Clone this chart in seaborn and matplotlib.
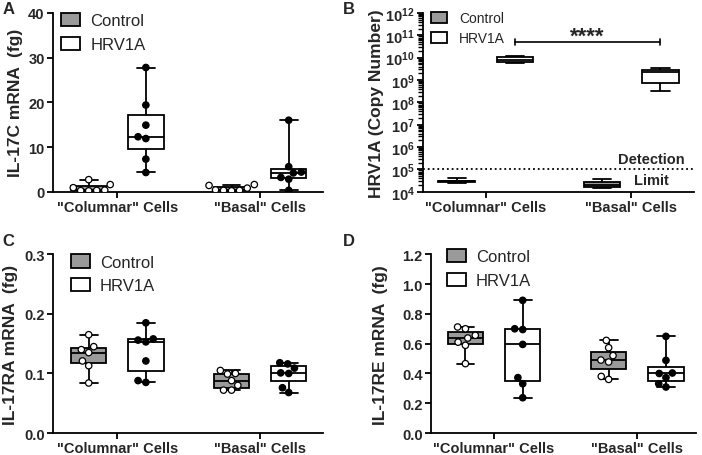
import matplotlib
matplotlib.use("Agg")
import matplotlib.pyplot as plt
import matplotlib.ticker as mticker
import seaborn as sns
import pandas as pd
from matplotlib.patches import Patch

# cell types and groups
cells = ['"Columnar" Cells', '"Basal" Cells']
groups = ["Control", "HRV1A"]

# A: IL-17C mRNA (fg)
il17c_col_ctrl = [0.2, 0.25, 0.3, 0.35, 0.9, 1.6, 2.7]
il17c_col_hrv = [4.3, 7.3, 11.9, 12.3, 14.9, 19.4, 27.8]
il17c_bas_ctrl = [0.2, 0.3, 0.3, 0.4, 0.8, 1.4, 1.6]
il17c_bas_hrv = [0.3, 2.8, 3.2, 4.2, 4.4, 5.6, 16.0]

# B: HRV1A copy number, box summary (min, q1, median, q3, max)
hrv_col_ctrl = [2.5e4, 2.7e4, 2.9e4, 3.1e4, 4.0e4]
hrv_col_hrv = [5.5e9, 6.5e9, 8.0e9, 1.1e10, 1.25e10]
hrv_bas_ctrl = [1.4e4, 1.6e4, 2.05e4, 2.8e4, 3.6e4]
hrv_bas_hrv = [3.1e8, 7.0e8, 2.3e9, 2.7e9, 3.3e9]
detection_limit = 1e5

# C: IL-17RA mRNA (fg)
il17ra_col_ctrl = [0.084, 0.113, 0.121, 0.135, 0.140, 0.145, 0.165]
il17ra_col_hrv = [0.085, 0.088, 0.121, 0.153, 0.156, 0.158, 0.185]
il17ra_bas_ctrl = [0.072, 0.072, 0.080, 0.088, 0.099, 0.100, 0.105]
il17ra_bas_hrv = [0.068, 0.076, 0.100, 0.101, 0.109, 0.116, 0.118]

# D: IL-17RE mRNA (fg)
il17re_col_ctrl = [0.466, 0.589, 0.610, 0.638, 0.656, 0.700, 0.712]
il17re_col_hrv = [0.237, 0.331, 0.372, 0.595, 0.695, 0.700, 0.891]
il17re_bas_ctrl = [0.360, 0.380, 0.477, 0.490, 0.520, 0.573, 0.622]
il17re_bas_hrv = [0.309, 0.331, 0.372, 0.400, 0.403, 0.488, 0.649]


def make_df(col_ctrl, col_hrv, bas_ctrl, bas_hrv):
    rows = []
    for cell, grp, vals in [(cells[0], groups[0], col_ctrl), (cells[0], groups[1], col_hrv),
                            (cells[1], groups[0], bas_ctrl), (cells[1], groups[1], bas_hrv)]:
        for v in vals:
            rows.append({"cell": cell, "group": grp, "value": v})
    return pd.DataFrame(rows)


sns.set_style("ticks")
plt.rcParams["font.family"] = ["Liberation Sans", "DejaVu Sans"]
plt.rcParams["font.weight"] = "bold"
plt.rcParams["mathtext.fontset"] = "custom"
plt.rcParams["mathtext.rm"] = "Liberation Sans:bold"
plt.rcParams["mathtext.bf"] = "Liberation Sans:bold"
plt.rcParams["mathtext.default"] = "bf"

box_colors = {"Control": "#9a9a9a", "HRV1A": "white"}
dot_colors = {"Control": "white", "HRV1A": "black"}

fig = plt.figure(figsize=(7.02, 4.56), dpi=100)
axA = fig.add_axes([0.0755, 0.5774, 0.3846, 0.3919])
axB = fig.add_axes([0.6026, 0.5774, 0.3860, 0.3919])
axC = fig.add_axes([0.0755, 0.0482, 0.3846, 0.3919])
axD = fig.add_axes([0.6140, 0.0482, 0.3775, 0.3919])


def draw_box(ax, df, log=False, points=True):
    sns.boxplot(data=df, x="cell", y="value", hue="group", order=cells, hue_order=groups,
                palette=box_colors, linecolor="black", linewidth=1.3, whis=(0, 100),
                showfliers=False, gap=0.38, dodge=True, legend=False, ax=ax,
                log_scale=log)
    if points:
        sns.swarmplot(data=df, x="cell", y="value", hue="group", order=cells, hue_order=groups,
                      palette=dot_colors, edgecolor="black", linewidth=0.9, size=4.6,
                      dodge=True, legend=False, ax=ax, zorder=3)


def style_axis(ax, ylabel, xlim, labelpad=4):
    ax.set_xlabel("")
    ax.set_ylabel(ylabel, fontsize=12.5, fontweight="bold", labelpad=labelpad)
    ax.set_xlim(*xlim)
    sns.despine(ax=ax)
    for s in ["left", "bottom"]:
        ax.spines[s].set_linewidth(1.3)
        ax.spines[s].set_color("black")
    ax.tick_params(axis="both", width=1.3, length=4, color="black", labelsize=10.5, pad=2)
    for lab in ax.get_xticklabels() + ax.get_yticklabels():
        lab.set_fontweight("bold")
    return [Patch(facecolor=box_colors[g], edgecolor="black", linewidth=1.3, label=g) for g in groups]


def add_legend(ax, handles, anchor, size=12, spacing=0.5, textpad=0.6):
    ax.legend(handles=handles, loc="upper left", bbox_to_anchor=anchor, frameon=False,
              handlelength=1.15, handleheight=0.85, handletextpad=textpad,
              labelspacing=spacing, borderaxespad=0, borderpad=0,
              prop={"weight": "normal", "size": size})


# A
draw_box(axA, make_df(il17c_col_ctrl, il17c_col_hrv, il17c_bas_ctrl, il17c_bas_hrv))
axA.set_ylim(0, 40)
axA.set_yticks([0, 10, 20, 30, 40])
h = style_axis(axA, "IL-17C mRNA  (fg)", (-0.45, 1.44))
add_legend(axA, h, (0.03, 1.0))

# B
draw_box(axB, make_df(hrv_col_ctrl, hrv_col_hrv, hrv_bas_ctrl, hrv_bas_hrv), log=True, points=False)
axB.set_ylim(1e4, 1e12)
decades = list(range(4, 13))
h = style_axis(axB, "HRV1A (Copy Number)", (-0.43, 1.43), labelpad=1)
axB.yaxis.set_major_locator(mticker.FixedLocator([10.0 ** k for k in decades]))
axB.yaxis.set_minor_locator(mticker.FixedLocator([m * 10.0 ** k for k in decades[:-1] for m in range(2, 10)]))
axB.yaxis.set_minor_formatter(mticker.NullFormatter())
axB.tick_params(axis="y", which="minor", width=1.0, length=3.5, color="black", left=True)
for lab in axB.get_yticklabels():
    lab.set_fontweight("bold")
axB.axhline(detection_limit, color="black", linestyle=":", linewidth=1.3)
axB.text(0.841, 1.35e5, "Detection", transform=axB.get_yaxis_transform(), ha="center",
         va="bottom", fontsize=10.5, fontweight="bold")
axB.text(0.841, 7e4, "Limit", transform=axB.get_yaxis_transform(), ha="center",
         va="top", fontsize=10.5, fontweight="bold")
hx = [0 + 0.2, 1 + 0.2]
axB.plot([hx[0], hx[0]], [3.6e10, 7e10], color="black", linewidth=1.2)
axB.plot([hx[1], hx[1]], [3.6e10, 7e10], color="black", linewidth=1.2)
axB.plot(hx, [5e10, 5e10], color="black", linewidth=1.2)
axB.text(sum(hx) / 2, 5.3e10, "****", ha="center", va="baseline", fontsize=16, fontweight="bold")
add_legend(axB, h, (0.03, 1.01), size=10, spacing=0.45, textpad=0.85)

# C
draw_box(axC, make_df(il17ra_col_ctrl, il17ra_col_hrv, il17ra_bas_ctrl, il17ra_bas_hrv))
axC.set_ylim(0, 0.3)
axC.set_yticks([0.0, 0.1, 0.2, 0.3])
axC.set_yticklabels(["0.0", "0.1", "0.2", "0.3"])
h = style_axis(axC, "IL-17RA mRNA  (fg)", (-0.45, 1.44))
add_legend(axC, h, (0.065, 1.0))

# D
draw_box(axD, make_df(il17re_col_ctrl, il17re_col_hrv, il17re_bas_ctrl, il17re_bas_hrv))
axD.set_ylim(0, 1.2)
axD.set_yticks([0.0, 0.2, 0.4, 0.6, 0.8, 1.0, 1.2])
axD.set_yticklabels(["0.0", "0.2", "0.4", "0.6", "0.8", "1.0", "1.2"])
h = style_axis(axD, "IL-17RE mRNA  (fg)", (-0.44, 1.41), labelpad=10)
add_legend(axD, h, (0.06, 1.03))

# panel letters
for x, y, s in [(0.004, 0.995, "A"), (0.488, 0.995, "B"), (0.004, 0.487, "C"), (0.488, 0.487, "D")]:
    fig.text(x, y, s, ha="left", va="top", fontsize=12, fontweight="bold")

fig.savefig("out.png", dpi=100)
